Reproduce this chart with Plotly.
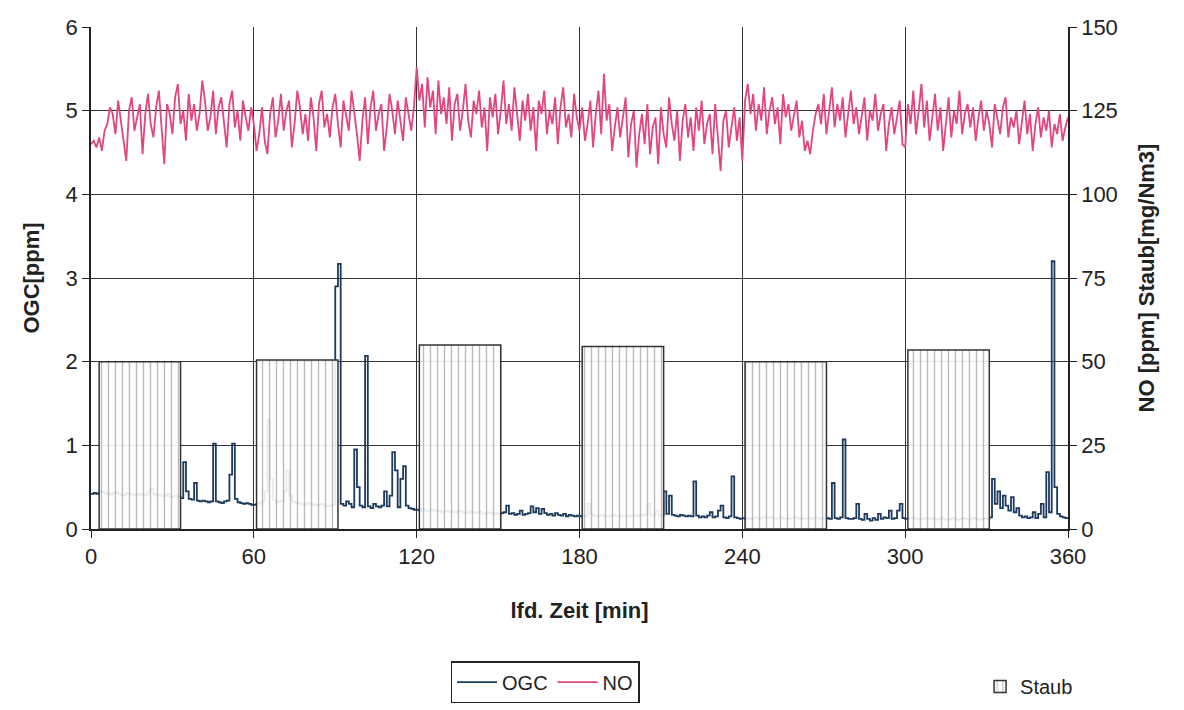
import plotly.graph_objects as go

minutes = list(range(0, 361))

ogc = [
    0.42,0.43,0.42,0.44,0.45,0.43,0.42,0.41,0.43,0.44,0.42,0.40,0.41,0.43,0.42,0.41,0.40,0.41,0.42,0.40,
    0.41,0.44,0.48,0.42,0.40,0.41,0.39,0.40,0.42,0.38,0.39,0.40,0.38,0.37,0.80,0.45,0.36,0.35,0.55,0.34,
    0.33,0.34,0.33,0.32,0.33,1.02,0.33,0.32,0.31,0.33,0.34,0.65,1.02,0.36,0.32,0.31,0.30,0.31,0.30,0.29,
    0.29,0.30,0.31,0.33,0.45,1.30,0.60,0.35,0.32,0.33,0.34,0.45,0.70,0.40,0.33,0.32,0.31,0.30,0.29,0.30,
    0.31,0.30,0.29,0.28,0.29,0.30,0.28,0.27,0.28,0.29,2.90,3.17,0.30,0.28,0.33,0.30,0.26,0.95,0.50,0.28,
    0.26,2.07,0.27,0.25,0.30,0.27,0.26,0.28,0.45,0.27,0.40,0.92,0.70,0.26,0.60,0.75,0.28,0.25,0.24,0.23,
    0.23,0.22,0.24,0.22,0.21,0.23,0.22,0.21,0.22,0.20,0.21,0.22,0.20,0.21,0.20,0.22,0.21,0.20,0.19,0.21,
    0.20,0.19,0.20,0.21,0.19,0.18,0.20,0.19,0.18,0.19,0.18,0.19,0.20,0.28,0.18,0.19,0.17,0.18,0.22,0.17,
    0.18,0.19,0.27,0.20,0.25,0.18,0.24,0.19,0.17,0.18,0.16,0.19,0.17,0.16,0.18,0.15,0.17,0.16,0.15,0.16,
    0.15,0.16,0.15,0.30,0.18,0.16,0.15,0.16,0.17,0.15,0.16,0.15,0.17,0.16,0.15,0.16,0.15,0.16,0.15,0.17,
    0.16,0.15,0.17,0.16,0.18,0.30,0.17,0.16,0.22,0.17,0.16,0.45,0.18,0.40,0.17,0.16,0.15,0.17,0.16,0.15,
    0.16,0.15,0.57,0.16,0.14,0.15,0.14,0.16,0.20,0.14,0.15,0.22,0.28,0.14,0.13,0.15,0.63,0.14,0.13,0.12,
    0.13,0.12,0.13,0.12,0.14,0.13,0.12,0.13,0.15,0.13,0.14,0.13,0.12,0.13,0.14,0.12,0.13,0.12,0.13,0.14,
    0.13,0.12,0.13,0.12,0.13,0.12,0.13,0.14,0.12,0.13,0.12,0.13,0.12,0.55,0.13,0.12,0.14,1.07,0.13,0.12,
    0.12,0.13,0.30,0.12,0.11,0.18,0.12,0.10,0.13,0.11,0.18,0.12,0.14,0.13,0.22,0.12,0.13,0.22,0.30,0.13,
    0.12,0.13,0.12,0.13,0.12,0.11,0.12,0.13,0.12,0.13,0.12,0.11,0.12,0.13,0.12,0.11,0.12,0.13,0.12,0.11,
    0.12,0.13,0.12,0.11,0.12,0.13,0.12,0.11,0.12,0.13,0.12,0.14,0.60,0.30,0.45,0.25,0.40,0.28,0.22,0.38,
    0.20,0.25,0.16,0.14,0.15,0.13,0.14,0.20,0.13,0.18,0.30,0.14,0.68,0.20,3.20,0.50,0.18,0.15,0.14,0.13,0.14,
]

no = [
    115,116,114,117,113,119,121,126,124,118,128,122,116,110,125,129,119,123,127,112,
    124,130,121,117,126,131,120,109,127,124,118,129,133,121,125,116,130,122,127,119,
    124,134,128,119,123,131,118,126,129,122,114,127,131,120,125,116,128,123,119,126,
    121,113,118,126,116,112,124,129,117,122,130,119,125,128,114,121,131,126,118,124,
    116,129,123,113,127,131,120,124,117,126,130,121,114,128,123,119,131,125,118,110,
    122,129,115,126,131,119,124,127,113,120,130,125,118,128,122,116,129,124,119,126,
    138,128,133,120,135,126,131,118,134,124,129,121,132,116,127,130,119,125,133,122,
    117,128,124,131,120,126,113,129,123,130,118,125,134,121,127,119,132,124,116,128,
    122,130,119,126,113,128,124,131,118,125,121,129,115,126,132,120,124,117,130,123,
    119,126,116,121,128,114,124,131,118,136,122,127,113,120,126,117,123,129,111,121,
    125,108,118,124,115,127,112,120,123,109,126,118,114,129,121,116,125,110,122,127,
    117,123,113,126,119,128,115,121,124,112,127,118,107,122,125,114,120,126,116,123,
    110,128,133,124,130,119,127,122,132,118,125,129,121,126,115,130,123,127,119,124,
    128,117,122,113,116,112,119,124,127,121,130,118,125,132,120,127,122,129,117,124,
    131,121,126,118,123,129,116,125,122,130,119,124,127,113,121,126,118,123,128,115,
    114,127,121,131,118,125,133,120,128,116,124,130,119,126,113,122,129,117,125,121,
    131,118,124,127,120,126,116,123,128,119,125,121,114,127,122,118,126,129,117,123,
    120,125,115,122,128,118,124,113,121,126,117,123,119,125,114,121,118,124,116,120,123,
]

staub_time = [18, 76, 136, 196, 256, 316]
staub = [50, 50.5, 55, 54.5, 50, 53.5]

x_ticks = [0, 60, 120, 180, 240, 300, 360]

FONT = "Liberation Sans, Arial, sans-serif"

fig = go.Figure()

fig.add_trace(go.Scatter(
    x=minutes, y=ogc, name="OGC", mode="lines", line_shape="hv",
    line=dict(color="#1d3a5c", width=1.8), yaxis="y", legend="legend",
))
fig.add_trace(go.Scatter(
    x=minutes, y=no, name="NO", mode="lines",
    line=dict(color="#e2457f", width=1.8), yaxis="y2", legend="legend",
))
fig.add_trace(go.Bar(
    x=staub_time, y=staub, name="Staub", width=30, yaxis="y2", legend="legend2",
    marker=dict(
        color="rgba(255,255,255,0.9)",
        line=dict(color="#333333", width=1.5),
        pattern=dict(shape="|", fgcolor="#777777", bgcolor="rgba(255,255,255,0.9)",
                     size=7, solidity=0.2),
    ),
))

fig.update_layout(
    width=1184, height=710,
    margin=dict(l=83, r=124, t=19, b=189, autoexpand=False),
    paper_bgcolor="white", plot_bgcolor="white",
    font=dict(family=FONT, size=22, color="#222"),
    showlegend=True,
    xaxis=dict(
        range=[0, 360], tickvals=x_ticks, ticks="outside", ticklen=7, tickcolor="#222",
        showline=True, linecolor="#222", linewidth=1.5,
        showgrid=True, gridcolor="#333", gridwidth=1.3, zeroline=False,
        title=dict(text="<b>lfd. Zeit [min]</b>", standoff=34, font=dict(size=22)),
    ),
    yaxis=dict(
        range=[0, 6], dtick=1, ticks="outside", ticklen=7, tickcolor="#222",
        showline=True, linecolor="#222", linewidth=1.5,
        showgrid=True, gridcolor="#333", gridwidth=1.3, zeroline=False,
        title=dict(text="<b>OGC[ppm]</b>", standoff=20, font=dict(size=22)),
    ),
    yaxis2=dict(
        range=[0, 150], dtick=25, overlaying="y", side="right",
        ticks="outside", ticklen=7, tickcolor="#222",
        showline=True, linecolor="#222", linewidth=1.5,
        showgrid=False, zeroline=False,
        title=dict(text="<b>NO [ppm] Staub[mg/Nm3]</b>", standoff=22, font=dict(size=22)),
    ),
    legend=dict(
        orientation="h", x=0.368, y=-0.263, xanchor="left", yanchor="top",
        bordercolor="#222", borderwidth=1.5, font=dict(size=20),
        itemwidth=40, tracegroupgap=0,
    ),
    legend2=dict(
        orientation="h", x=0.91, y=-0.275, xanchor="left", yanchor="top",
        borderwidth=0, font=dict(size=20),
    ),
)

fig.write_html("out.html")
